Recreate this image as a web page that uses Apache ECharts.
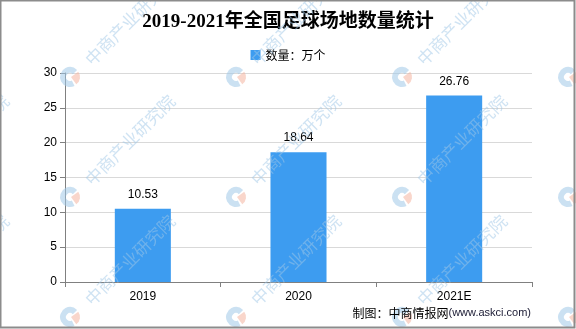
<!DOCTYPE html>
<html>
<head>
<meta charset="utf-8">
<script src="https://cdn.jsdelivr.net/npm/echarts@6/dist/echarts.min.js"></script>
<style>
html,body{margin:0;padding:0;background:#fff;}
#main{width:576px;height:329px;}
</style>
</head>
<body>
<div id="main"></div>
<script>
// ---- data ----
const titleText = '2019-2021年全国足球场地数量统计';
const seriesName = '数量：万个';
const categories = ['2019', '2020', '2021E'];
const values = [10.53, 18.64, 26.76];
const yMin = 0, yMax = 30, yInterval = 5;
const sourceCn = '制图：中商情报网';
const sourceUrl = '(www.askci.com)';
const watermarkText = '中商产业研究院';

// ---- watermark layout (decoration) ----
const wmCols = [-96, 70, 236, 402, 568];
const wmRows = [-43, 77, 197, 317];
const wm = [];
wmRows.forEach(ly => {
  wmCols.forEach(lx => {
    wm.push({
      type: 'sector', z: 100, silent: true,
      shape: { cx: lx, cy: ly, r: 10, r0: 4, startAngle: Math.PI * 0.35, endAngle: Math.PI * 1.75 },
      style: { fill: 'rgba(160,200,232,0.55)' }
    });
    wm.push({
      type: 'sector', z: 100, silent: true,
      shape: { cx: lx + 1, cy: ly, r: 9, r0: 0, startAngle: Math.PI * 1.8, endAngle: Math.PI * 2.3 },
      style: { fill: 'rgba(244,180,160,0.55)' }
    });
    wm.push({
      type: 'text', z: 100, silent: true,
      x: lx + 60, y: ly - 57, rotation: Math.PI / 4,
      style: {
        text: watermarkText, fontSize: 17, fontFamily: "'Noto Sans CJK SC'",
        fill: 'rgba(160,200,232,0.5)', align: 'center', verticalAlign: 'middle'
      }
    });
  });
});

const chart = echarts.init(document.getElementById('main'), null, { renderer: 'canvas' });
chart.setOption({
  backgroundColor: '#fff',
  animation: false,
  title: {
    text: titleText,
    left: 'center',
    top: 8,
    textStyle: {
      fontSize: 19, fontWeight: 'bold', color: '#000',
      fontFamily: "'Liberation Serif','Noto Sans CJK SC',serif"
    }
  },
  legend: {
    data: [seriesName],
    top: 44,
    left: 'center',
    icon: 'rect',
    itemWidth: 10,
    itemHeight: 10,
    textStyle: { fontSize: 12, color: '#000', fontFamily: "'Noto Sans CJK SC'" }
  },
  grid: { left: 65, right: 44, top: 73, bottom: 47, containLabel: false },
  xAxis: {
    type: 'category',
    data: categories,
    axisLine: { lineStyle: { color: '#808080', width: 1 } },
    axisTick: { show: true, length: 5, lineStyle: { color: '#808080' } },
    axisLabel: { fontSize: 12, color: '#000', margin: 9, fontFamily: "'Liberation Sans',Arial" }
  },
  yAxis: {
    type: 'value',
    min: yMin, max: yMax, interval: yInterval,
    axisLine: { show: true, lineStyle: { color: '#808080', width: 1 } },
    axisTick: { show: true, length: 5, lineStyle: { color: '#808080' } },
    axisLabel: { fontSize: 12, color: '#000', margin: 8, fontFamily: "'Liberation Sans',Arial" },
    splitLine: { show: true, lineStyle: { color: '#d9d9d9', width: 1 } }
  },
  series: [{
    name: seriesName,
    type: 'bar',
    data: values,
    barWidth: '36%',
    itemStyle: { color: '#3d9cf0' },
    label: {
      show: true, position: 'top', distance: 8,
      fontSize: 12, color: '#000', fontFamily: "'Liberation Sans',Arial"
    }
  }],
  graphic: [
    {
      type: 'rect', z: 200, silent: true,
      shape: { x: 0.5, y: 0.5, width: 574, height: 327 },
      style: { fill: 'none', stroke: '#8c8c8c', lineWidth: 2 }
    },
    {
      type: 'text', z: 150, silent: true,
      x: 531, y: 313,
      style: {
        text: '{cn|' + sourceCn + '}{url|' + sourceUrl + '}',
        align: 'right', verticalAlign: 'middle',
        rich: {
          cn: { fontSize: 12, fill: '#000', fontFamily: "'Noto Sans CJK SC'" },
          url: { fontSize: 11, fill: '#1a1a33', fontFamily: "'Liberation Sans',Arial" }
        }
      }
    }
  ].concat(wm)
});
</script>
</body>
</html>
